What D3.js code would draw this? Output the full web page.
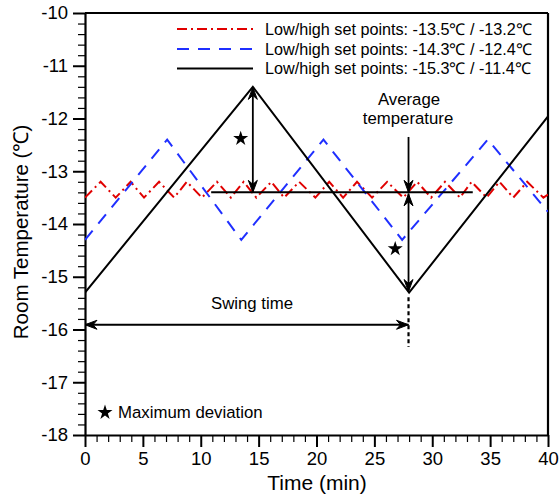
<!DOCTYPE html>
<html><head><meta charset="utf-8">
<script src="https://cdn.jsdelivr.net/npm/d3@7"></script>
<style>
body{margin:0;background:#fff;}
text{font-family:"Liberation Sans",Arial,Helvetica,sans-serif;fill:#000;}
</style></head>
<body><svg id="c" width="560" height="495"></svg>
<script>
// ---- data ----
const xTicks = [0,5,10,15,20,25,30,35,40];
const yTicks = [-18,-17,-16,-15,-14,-13,-12,-11,-10];
const seriesNames = ["Low/high set points: -13.5\u2103 / -13.2\u2103",
                     "Low/high set points: -14.3\u2103 / -12.4\u2103",
                     "Low/high set points: -15.3\u2103 / -11.4\u2103"];
const redTime = [0,1.35,2.65,3.94,5.1,6.4,7.7,8.8,10.1,11.4,12.6,13.7,14.8,16.1,17.2,18.5,19.9,21.1,22.3,23.5,24.8,26.1,27.5,28.7,29.9,31.1,32.4,33.4,34.7,35.8,37.0,38.2,39.6,40];
const redTemp = [-13.5,-13.2,-13.5,-13.2,-13.5,-13.2,-13.5,-13.2,-13.5,-13.2,-13.5,-13.2,-13.5,-13.2,-13.5,-13.2,-13.5,-13.2,-13.5,-13.2,-13.5,-13.2,-13.5,-13.2,-13.5,-13.2,-13.5,-13.2,-13.5,-13.2,-13.5,-13.2,-13.5,-13.44];
const blueTime = [0,7.1,13.5,20.6,27.4,34.8,40];
const blueTemp = [-14.3,-12.4,-14.3,-12.4,-14.3,-12.4,-13.77];
const blackTime = [0,14.5,28,40];
const blackTemp = [-15.3,-11.4,-15.3,-11.96];
const avgTemp = -13.4, avgStart = 10.9, avgEnd = 33.5;
const peakTime = 14.5, minTime = 27.95;
const swingTemp = -15.91;
const stars = [[13.45,-12.38],[26.8,-14.47]];

// ---- chart ----
const svg = d3.select("#c");
const x = d3.scaleLinear().domain([0,40]).range([85,548]);
const y = d3.scaleLinear().domain([-18,-10]).range([435,13]);

// axes
const minorX = d3.range(0,41,1).filter(v=>v%5!==0);
const minorY = d3.range(-18,-9.99,0.2).map(v=>+v.toFixed(1)).filter(v=>Math.abs(v-Math.round(v))>1e-6);

const gx = svg.append("g").attr("transform","translate(0,435)");
gx.call(d3.axisBottom(x).tickValues(minorX).tickSize(7).tickFormat("").tickSizeOuter(0))
  .call(g=>g.select(".domain").remove());
gx.selectAll("line").attr("stroke-width",1.2);
const gx2 = svg.append("g").attr("transform","translate(0,435)");
gx2.call(d3.axisBottom(x).tickValues(xTicks).tickSize(12).tickPadding(5).tickSizeOuter(0));
gx2.selectAll("line").attr("stroke-width",2);
gx2.select(".domain").attr("stroke-width",2.2);
gx2.selectAll("text").attr("font-size",18.5).style("font-family","'Liberation Sans',Arial,sans-serif");

const gy = svg.append("g").attr("transform","translate(85,0)");
gy.call(d3.axisLeft(y).tickValues(minorY).tickSize(7).tickFormat("").tickSizeOuter(0))
  .call(g=>g.select(".domain").remove());
gy.selectAll("line").attr("stroke-width",1.2);
const gy2 = svg.append("g").attr("transform","translate(85,0)");
gy2.call(d3.axisLeft(y).tickValues(yTicks).tickSize(12).tickPadding(5).tickSizeOuter(0).tickFormat(d=>String(d).replace("\u2212","-")));
gy2.selectAll("line").attr("stroke-width",2);
gy2.select(".domain").attr("stroke-width",2.2);
gy2.selectAll("text").attr("font-size",18.5).style("font-family","'Liberation Sans',Arial,sans-serif");

// frame top/right
svg.append("line").attr("x1",x(0)).attr("x2",x(40)).attr("y1",y(-10)).attr("y2",y(-10)).attr("stroke","#000").attr("stroke-width",2.2);
svg.append("line").attr("x1",x(40)).attr("x2",x(40)).attr("y1",y(-10)).attr("y2",y(-18)).attr("stroke","#000").attr("stroke-width",2.2);

// axis titles
svg.append("text").attr("x",317).attr("y",490).attr("text-anchor","middle").attr("font-size",21).text("Time (min)");
svg.append("text").attr("transform","translate(28,232) rotate(-90)").attr("text-anchor","middle").attr("font-size",20.5).text("Room Temperature (\u2103)");

// series
const line = d3.line().x(d=>x(d[0])).y(d=>y(d[1]));
svg.append("clipPath").attr("id","pc").append("rect").attr("x",85).attr("y",13).attr("width",463).attr("height",422);
const plot = svg.append("g").attr("clip-path","url(#pc)");
const redPts = redTime.map((t,i)=>[t,redTemp[i]]);
const bluePts = blueTime.map((t,i)=>[t,blueTemp[i]]);
const blackPts = blackTime.map((t,i)=>[t,blackTemp[i]]);
const styles = [
  {color:"#e00000", dash:"10,4,2,4", w:2},
  {color:"#1f2fff", dash:"12,9", w:2},
  {color:"#000", dash:null, w:2}
];
plot.append("path").datum(redPts).attr("d",line).attr("fill","none").attr("stroke",styles[0].color).attr("stroke-width",2).attr("stroke-dasharray",styles[0].dash);
plot.append("path").datum(bluePts).attr("d",line).attr("fill","none").attr("stroke",styles[1].color).attr("stroke-width",2).attr("stroke-dasharray",styles[1].dash);
plot.append("path").datum(blackPts).attr("d",line).attr("fill","none").attr("stroke",styles[2].color).attr("stroke-width",2);

// average line
svg.append("line").attr("x1",x(avgStart)).attr("x2",x(avgEnd)).attr("y1",y(avgTemp)).attr("y2",y(avgTemp)).attr("stroke","#000").attr("stroke-width",2);

// arrowheads
function head(px,py,angleDeg){
  const L=12,W=4.5,N=8;
  const p = `M0,0 L${-L},${-W} L${-N},0 L${-L},${W} Z`;
  svg.append("path").attr("d",p).attr("fill","#000").attr("stroke","#000").attr("stroke-width",1).attr("stroke-linejoin","miter")
    .attr("transform",`translate(${px},${py}) rotate(${angleDeg})`);
}
function vline(t,v1,v2){
  svg.append("line").attr("x1",x(t)).attr("x2",x(t)).attr("y1",y(v1)).attr("y2",y(v2)).attr("stroke","#000").attr("stroke-width",1.8);
}
// max deviation arrow at peak
vline(peakTime,-11.41,avgTemp);
head(x(peakTime),y(-11.41),-90);
head(x(peakTime),y(avgTemp),90);
// average temperature arrow
vline(minTime,-12.35,avgTemp);
head(x(minTime),y(avgTemp),90);
vline(minTime,avgTemp-0.02,-15.28);
head(x(minTime),y(avgTemp)+1.5,-90);
head(x(minTime),y(-15.28),90);
// dashed marker below min
svg.append("line").attr("x1",x(minTime)).attr("x2",x(minTime)).attr("y1",y(-15.39)).attr("y2",y(-16.33)).attr("stroke","#000").attr("stroke-width",2.2).attr("stroke-dasharray","4,3");
// swing time arrow
svg.append("line").attr("x1",x(0)).attr("x2",x(minTime)).attr("y1",y(swingTemp)).attr("y2",y(swingTemp)).attr("stroke","#000").attr("stroke-width",1.8);
head(x(0),y(swingTemp),180);
head(x(minTime),y(swingTemp),0);

// stars
const star = d3.symbol().type(d3.symbolStar).size(70);
stars.forEach(s=>svg.append("path").attr("d",star()).attr("transform",`translate(${x(s[0])},${y(s[1])})`).attr("fill","#000"));
svg.append("path").attr("d",star()).attr("transform","translate(105,412.5)").attr("fill","#000");

// annotations
svg.append("text").attr("x",118).attr("y",418).attr("font-size",16.8).text("Maximum deviation");
svg.append("text").attr("x",252).attr("y",309).attr("text-anchor","middle").attr("font-size",16.8).text("Swing time");
svg.append("text").attr("x",409).attr("y",105).attr("text-anchor","middle").attr("font-size",16.8).text("Average");
svg.append("text").attr("x",408).attr("y",124).attr("text-anchor","middle").attr("font-size",16.8).text("temperature");

// legend
const legY = [29,49,68.5];
seriesNames.forEach((n,i)=>{
  const g = svg.append("g");
  const l = g.append("line").attr("x1",177).attr("x2",253).attr("y1",legY[i]).attr("y2",legY[i]).attr("stroke",styles[i].color).attr("stroke-width",2);
  if(styles[i].dash) l.attr("stroke-dasharray",styles[i].dash);
  g.append("text").attr("x",265).attr("y",legY[i]).attr("dy","0.36em").attr("font-size",16.2).text(n);
});
</script></body></html>
